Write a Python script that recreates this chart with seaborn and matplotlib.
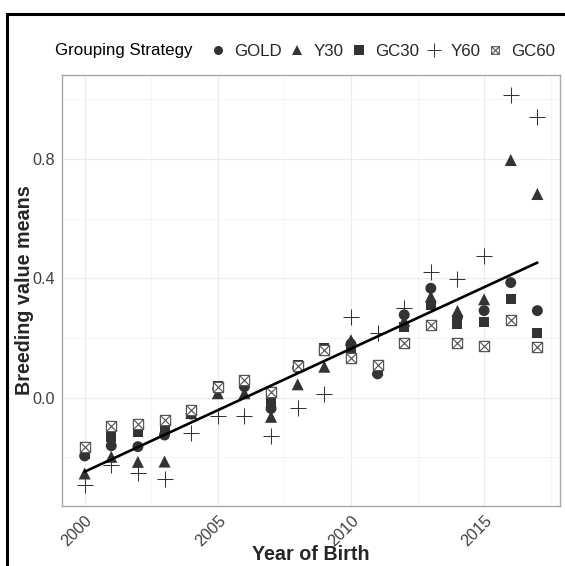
import numpy as np
import pandas as pd
import matplotlib
matplotlib.use("Agg")
import matplotlib.pyplot as plt
from matplotlib.path import Path
from matplotlib.patches import Rectangle
from matplotlib.lines import Line2D
import seaborn as sns

# ---- data ----
years = [2000, 2001, 2002, 2003, 2004, 2005, 2006, 2007, 2008,
         2009, 2010, 2011, 2012, 2013, 2014, 2015, 2016, 2017]
gold = [-0.195, -0.161, -0.164, -0.125, -0.055, 0.030, 0.037, -0.036, 0.100,
        0.160, 0.180, 0.080, 0.278, 0.367, 0.270, 0.292, 0.386, 0.292]
y30 = [-0.254, -0.198, -0.215, -0.214, -0.050, 0.015, 0.015, -0.064, 0.045,
       0.104, 0.193, 0.095, 0.258, 0.339, 0.291, 0.330, 0.797, 0.683]
gc30 = [-0.188, -0.131, -0.114, -0.103, -0.055, 0.040, 0.048, -0.013, 0.111,
        0.166, 0.166, 0.103, 0.238, 0.311, 0.248, 0.255, 0.331, 0.216]
y60 = [-0.293, -0.226, -0.254, -0.273, -0.119, -0.062, -0.060, -0.128, -0.036,
       0.011, 0.272, 0.218, 0.300, 0.422, 0.398, 0.475, 1.015, 0.942]
gc60 = [-0.165, -0.095, -0.088, -0.075, -0.040, 0.035, 0.059, 0.020, 0.108,
        0.160, 0.133, 0.111, 0.182, 0.244, 0.182, 0.174, 0.260, 0.171]
strategies = ["GOLD", "Y30", "GC30", "Y60", "GC60"]
fit_years = [2000, 2017]
fit_values = [-0.248, 0.453]
x_ticks = [2000, 2005, 2010, 2015]
y_ticks = [0.0, 0.4, 0.8]

series = {"GOLD": gold, "Y30": y30, "GC30": gc30, "Y60": y60, "GC60": gc60}
df = pd.DataFrame([{"Year": yr, "Value": v, "Strategy": s}
                   for s in strategies for yr, v in zip(years, series[s])])
fit_df = pd.DataFrame({"Year": fit_years, "Value": fit_values})

# ---- style ----
sns.set_style("white")
plt.rcParams["font.family"] = ["Liberation Sans", "DejaVu Sans"]

W, H = 565, 566
ax_l, ax_r, ax_t, ax_b = 62, 560, 75, 506
fig = plt.figure(figsize=(W / 100, H / 100), dpi=100)
ax = fig.add_axes([ax_l / W, 1 - ax_b / H, (ax_r - ax_l) / W, (ax_b - ax_t) / H])

# square with cross marker (ggplot shape 7)
sqx = Path([(-1, -1), (1, -1), (1, 1), (-1, 1), (-1, -1),
            (-1, -1), (1, 1), (-1, 1), (1, -1)],
           [Path.MOVETO, Path.LINETO, Path.LINETO, Path.LINETO, Path.CLOSEPOLY,
            Path.MOVETO, Path.LINETO, Path.MOVETO, Path.LINETO])

dark = "#333333"
styles = {
    "GOLD": dict(marker="o", s=62, color=dark, edgecolor="none", linewidth=0),
    "Y30": dict(marker="^", s=75, color=dark, edgecolor="none", linewidth=0),
    "GC30": dict(marker="s", s=52, color=dark, edgecolor="none", linewidth=0),
    "Y60": dict(marker="+", s=135, color=dark, linewidth=0.75),
    "GC60": dict(marker=sqx, s=54, facecolor="white", edgecolor="#555555", linewidth=0.85),
}

for s in strategies:
    sub = df[df["Strategy"] == s]
    sns.scatterplot(data=sub, x="Year", y="Value", ax=ax, legend=False, zorder=3, **styles[s])

sns.lineplot(data=fit_df, x="Year", y="Value", ax=ax, color="black", linewidth=1.9, zorder=4)

ax.set_xlim(1999.15, 2017.85)
ax.set_ylim(-0.363, 1.082)
ax.set_xticks(x_ticks)
ax.set_xticks([2002.5, 2007.5, 2012.5, 2017.5], minor=True)
ax.set_yticks(y_ticks)
ax.set_yticks([-0.2, 0.2, 0.6, 1.0], minor=True)
ax.set_yticklabels([f"{v:.1f}" for v in y_ticks])
ax.grid(True, which="major", color="#EBEBEB", linewidth=0.8, zorder=0)
ax.grid(True, which="minor", color="#F2F2F2", linewidth=0.5, zorder=0)
ax.set_axisbelow(True)
for sp in ax.spines.values():
    sp.set_color("#A8A8A8")
    sp.set_linewidth(1.0)
ax.tick_params(axis="both", which="major", length=3, color="#555555", labelsize=11.7,
               labelcolor="#404040", pad=2)
ax.tick_params(axis="both", which="minor", length=0)
for lab in ax.get_xticklabels():
    lab.set_rotation(45)
    lab.set_ha("right")
    lab.set_va("top")
    lab.set_rotation_mode("anchor")

ax.set_xlabel("Year of Birth", fontsize=14.2, fontweight="bold")
ax.set_ylabel("Breeding value means", fontsize=14.2, fontweight="bold")
ax.xaxis.label.set_va("center")
ax.xaxis.set_label_coords(0.5, (ax_b - 555) / (ax_b - ax_t))
ax.yaxis.label.set_va("center")
ax.yaxis.set_label_coords((24.5 - ax_l) / (ax_r - ax_l), 0.5)

# ---- legend on top ----
fig.text(55 / W, 1 - 51 / H, "Grouping Strategy", fontsize=12.2, va="center", ha="left",
         color="black")
handles = []
for s in strategies:
    st = styles[s]
    if s == "GC60":
        h = Line2D([], [], linestyle="none", marker=sqx, markersize=5.5,
                   markerfacecolor="white", markeredgecolor="#555555", markeredgewidth=0.8)
    elif s == "Y60":
        h = Line2D([], [], linestyle="none", marker="+", markersize=10.5,
                   color=dark, markeredgewidth=0.7)
    else:
        h = Line2D([], [], linestyle="none", marker=st["marker"],
                   markersize=6.5, color=dark, markeredgewidth=0)
    handles.append(h)
fig.legend(handles, strategies, loc="center left", bbox_to_anchor=(210 / W, 1 - 51 / H),
           ncol=5, frameon=False, fontsize=12.2, handlelength=1.0, handletextpad=0.45,
           columnspacing=0.4, borderpad=0, borderaxespad=0)

# black frame visible at left and top of the reference
fig.patches.append(Rectangle((7 / W, -0.1), 2.0, 1 - 14 / H + 0.1, transform=fig.transFigure,
                             fill=False, edgecolor="black", linewidth=2.2, clip_on=False))

fig.savefig("out.png", dpi=100, facecolor="white")
